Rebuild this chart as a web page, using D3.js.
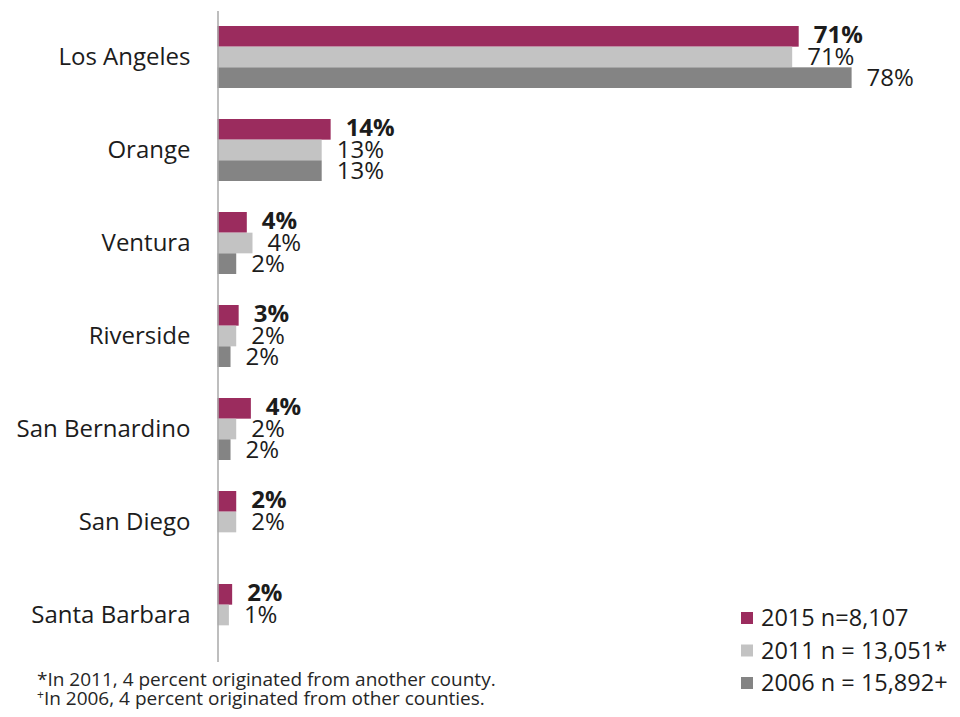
<!DOCTYPE html>
<html>
<head>
<meta charset="utf-8">
<script src="https://cdn.jsdelivr.net/npm/d3@7"></script>
<style>
  html, body { margin: 0; padding: 0; background: #fff; }
  svg { display: block; font-family: "Open Sans", "Noto Sans", sans-serif; }
</style>
</head>
<body>
<svg id="chart" width="960" height="717"></svg>
<script>
// Counties of origin, share of respondents by survey year (percent)
const categories = ["Los Angeles", "Orange", "Ventura", "Riverside", "San Bernardino", "San Diego", "Santa Barbara"];
const seriesKeys = ["2015", "2011", "2006"];
const values2015 = [71.4, 13.9, 3.6, 2.6, 4.1, 2.3, 1.8];
const values2011 = [70.6, 12.8, 4.3, 2.3, 2.3, 2.3, 1.4];
const values2006 = [77.9, 12.8, 2.3, 1.6, 1.6, null, null];
const legendLabels = ["2015 n=8,107", "2011 n = 13,051*", "2006 n = 15,892+"];
const footnotes = [
  { mark: "*", text: "In 2011, 4 percent originated from another county." },
  { mark: "+", text: "In 2006, 4 percent originated from other counties." }
];

const seriesValues = { "2015": values2015, "2011": values2011, "2006": values2006 };
const colors = { "2015": "#9b2c5e", "2011": "#c3c3c3", "2006": "#848484" };

const svg = d3.select("#chart");
const axisX = 217.5;

const x = d3.scaleLinear().domain([0, 80]).range([axisX, axisX + 80 * 8.14]);
const y = d3.scaleBand().domain(categories).range([10.5, 661.5])
  .paddingInner(1 / 3).paddingOuter(1 / 6);
const ySub = d3.scaleBand().domain(seriesKeys).range([0, y.bandwidth()]);

const rows = categories.map((c, i) => ({
  category: c,
  bars: seriesKeys
    .map(k => ({ key: k, value: seriesValues[k][i] }))
    .filter(d => d.value != null)
}));

const fmt = d3.format(".0f");

const groups = svg.append("g").selectAll("g")
  .data(rows).join("g")
  .attr("transform", d => `translate(0,${y(d.category)})`);

groups.selectAll("rect")
  .data(d => d.bars).join("rect")
  .attr("x", x(0))
  .attr("y", d => ySub(d.key))
  .attr("width", d => x(d.value) - x(0))
  .attr("height", ySub.bandwidth())
  .attr("fill", d => colors[d.key]);

// Value labels to the right of each bar
groups.selectAll("text")
  .data(d => d.bars).join("text")
  .attr("x", d => x(d.value) + 15)
  .attr("y", d => ySub(d.key) + ySub.bandwidth() / 2 + (d.key === "2015" ? -2 : 0))
  .attr("dy", "0.35em")
  .attr("font-size", 24)
  .attr("font-weight", d => d.key === "2015" ? 700 : 400)
  .attr("fill", "#1c1c1c")
  .text(d => fmt(d.value) + "%");

// Category axis
const yAxis = svg.append("g")
  .attr("transform", `translate(${axisX},0)`)
  .call(d3.axisLeft(y).tickSize(0).tickPadding(27));
yAxis.select(".domain").attr("stroke", "#a8a8a8").attr("stroke-width", 1.5);
yAxis.selectAll("text")
  .attr("font-size", 24)
  .attr("font-family", "\"Open Sans\", \"Noto Sans\", sans-serif")
  .attr("fill", "#1c1c1c");

// Legend
const legend = svg.append("g").attr("transform", "translate(741,618)");
const items = legend.selectAll("g").data(seriesKeys).join("g")
  .attr("transform", (d, i) => `translate(0,${i * 32.5})`);
items.append("rect")
  .attr("x", 0).attr("y", -6).attr("width", 12).attr("height", 12)
  .attr("fill", d => colors[d]);
items.append("text")
  .attr("x", 20).attr("y", 0).attr("dy", "0.35em")
  .attr("font-size", 23.5)
  .attr("fill", "#1c1c1c")
  .text((d, i) => legendLabels[i]);

// Footnotes
const notes = svg.append("g");
notes.selectAll("text").data(footnotes).join("text")
  .attr("x", 37)
  .attr("y", (d, i) => 686 + i * 19)
  .attr("font-size", 19)
  .attr("fill", "#262626")
  .each(function (d, i) {
    const t = d3.select(this);
    t.append("tspan")
      .attr("font-size", i === 0 ? 19 : 12)
      .attr("dy", i === 0 ? 0 : -6)
      .text(d.mark);
    t.append("tspan")
      .attr("dy", i === 0 ? 0 : 6)
      .text(d.text);
  });
</script>
</body>
</html>
